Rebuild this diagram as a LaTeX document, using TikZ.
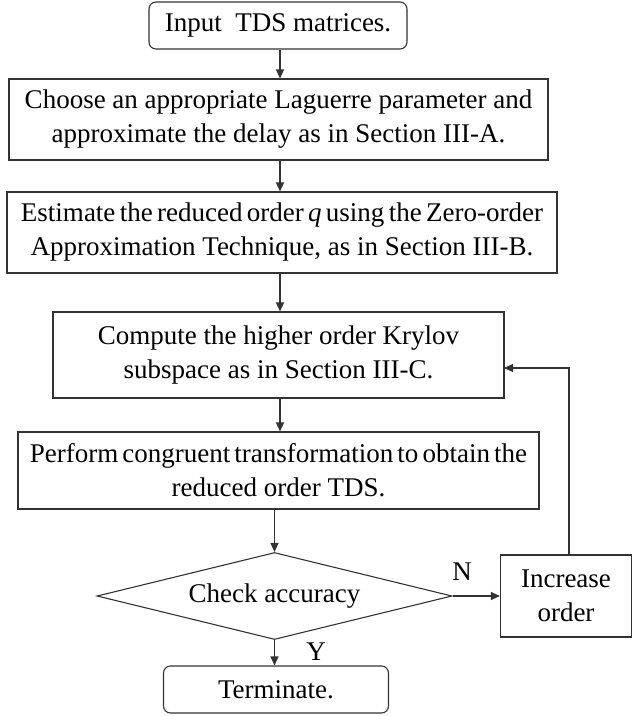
\documentclass[tikz,border=0pt]{standalone}
\usepackage{fontspec}
\setmainfont{Liberation Serif}
\usetikzlibrary{shapes.geometric,arrows.meta,calc}
\begin{document}
\begin{tikzpicture}[x=1pt,y=-1pt,
  font=\fontsize{27}{34}\selectfont,
  line width=1.1pt,
  every node/.style={inner sep=0pt, text=black},
  boxstyle/.style={draw=black!80, rectangle, align=center},
  roundbox/.style={draw=black!80, rectangle, rounded corners=7pt, align=center},
  decision/.style={draw=black!80, diamond, shape aspect=4.06, minimum width=355pt, minimum height=87pt},
  arr/.style={draw=black!80, -{Triangle[length=9pt,width=8pt]}}]
\useasboundingbox (0,0) rectangle (633,716);
\node[roundbox, minimum width=258pt, minimum height=47pt] (input) at (278,25.5) {Input\ \ TDS matrices.};
\node[boxstyle, minimum width=539pt, minimum height=81pt] (choose) at (278.5,119.5) {Choose an appropriate Laguerre parameter and\\approximate the delay as in Section III-A.};
\node[boxstyle, minimum width=550pt, minimum height=81pt] (estimate) at (282,232.5) {{\spaceskip=0.16em Estimate the reduced order \textit{q} using the Zero-order}\\Approximation Technique, as in Section III-B.};
\node[boxstyle, minimum width=451pt, minimum height=86pt] (compute) at (278.5,355) {Compute the higher order Krylov\\subspace as in Section III-C.};
\node[boxstyle, minimum width=521pt, minimum height=77pt] (perform) at (278.5,470.5) {{\spaceskip=0.15em Perform congruent transformation to obtain the}\\reduced order TDS.};
\node[decision] (check) at (274.5,596) {Check accuracy};
\node[roundbox, minimum width=225pt, minimum height=47pt] (term) at (276,689.5) {Terminate.};
\node[boxstyle, minimum width=131pt, minimum height=82pt] (incr) at (566,596) {Increase\\order};
\coordinate (fb) at (504,368);
\coordinate (c1) at (280,0);
\coordinate (c3) at (569,0);
\draw[arr] (c1 |- input.south) -- (c1 |- choose.north);
\draw[arr] (c1 |- choose.south) -- (c1 |- estimate.north);
\draw[arr] (c1 |- estimate.south) -- (c1 |- compute.north);
\draw[arr] (c1 |- compute.south) -- (c1 |- perform.north);
\draw[arr] (check.north |- perform.south) -- (check.north);
\draw[arr] (check.south) -- (term.north -| check.south);
\draw[arr] (check.east) -- (incr.west |- check.east);
\draw[arr] (c3 |- incr.north) |- (fb);
\node (nlab) at (462,572) {N};
\node (ylab) at (316,652) {Y};
\end{tikzpicture}
\end{document}
